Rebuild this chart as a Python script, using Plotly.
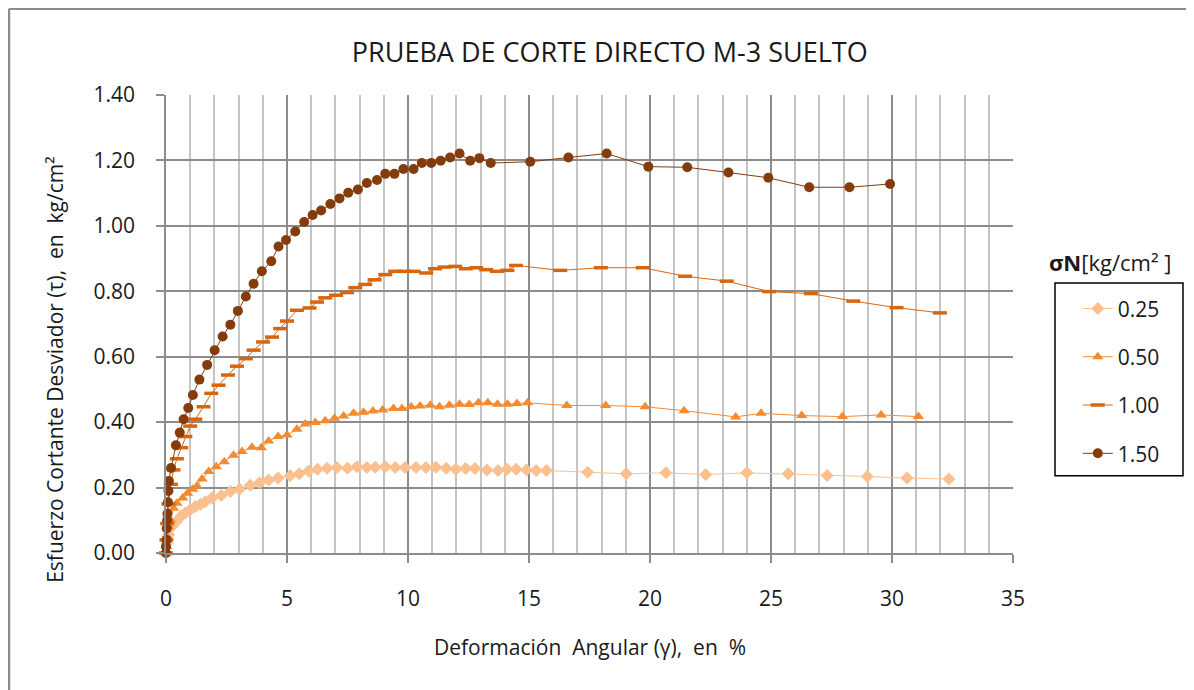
import plotly.graph_objects as go


###### DATA ######
# sigma N = 0.25 kg/cm2
x_025 = [0, 0.05, 0.11, 0.25, 0.43, 0.62, 0.80, 1.00, 1.21, 1.42, 1.62, 1.90, 2.28, 2.66, 3.04,
         3.48, 3.87, 4.24, 4.63, 5.13, 5.51, 5.89, 6.26, 6.65, 7.06, 7.50, 7.89, 8.30, 8.65, 9.06,
         9.47, 9.88, 10.33, 10.74, 11.15, 11.58, 11.98, 12.38, 12.77, 13.26, 13.72, 14.09, 14.47,
         14.90, 15.30, 15.72, 17.42, 19.02, 20.66, 22.30, 24.00, 25.71, 27.32, 28.98, 30.62, 32.35]
y_025 = [0, 0.030, 0.056, 0.081, 0.096, 0.112, 0.122, 0.132, 0.142, 0.149, 0.157, 0.168, 0.176,
         0.188, 0.195, 0.207, 0.215, 0.223, 0.229, 0.236, 0.242, 0.251, 0.256, 0.259, 0.261, 0.259,
         0.264, 0.261, 0.262, 0.264, 0.261, 0.261, 0.261, 0.261, 0.262, 0.259, 0.256, 0.258, 0.258,
         0.254, 0.252, 0.256, 0.256, 0.254, 0.252, 0.252, 0.247, 0.242, 0.245, 0.240, 0.245, 0.242,
         0.237, 0.234, 0.229, 0.226]

# sigma N = 0.50 kg/cm2
x_050 = [0, 0.03, 0.06, 0.11, 0.18, 0.31, 0.45, 0.69, 0.89, 1.10, 1.28, 1.49, 1.76, 2.08, 2.41,
         2.79, 3.14, 3.55, 3.94, 4.24, 4.63, 5.00, 5.41, 5.76, 6.17, 6.58, 6.96, 7.34, 7.75, 8.16,
         8.55, 8.95, 9.40, 9.75, 10.13, 10.50, 10.92, 11.30, 11.71, 12.13, 12.53, 12.91, 13.30,
         13.70, 14.11, 14.50, 14.94, 16.56, 18.17, 19.80, 21.41, 23.54, 24.59, 26.27, 27.95,
         29.55, 31.09]
y_050 = [0, 0.020, 0.050, 0.081, 0.101, 0.137, 0.152, 0.168, 0.183, 0.195, 0.205, 0.226, 0.249,
         0.264, 0.279, 0.299, 0.310, 0.323, 0.322, 0.342, 0.356, 0.361, 0.378, 0.394, 0.399, 0.404,
         0.412, 0.419, 0.427, 0.430, 0.434, 0.437, 0.442, 0.442, 0.447, 0.449, 0.452, 0.447, 0.452,
         0.455, 0.454, 0.459, 0.459, 0.455, 0.455, 0.457, 0.459, 0.451, 0.451, 0.447, 0.435, 0.416,
         0.427, 0.420, 0.417, 0.422, 0.417]

# sigma N = 1.00 kg/cm2
x_100 = [0, 0.02, 0.05, 0.10, 0.20, 0.31, 0.45, 0.63, 0.80, 1.00, 1.21, 1.55, 1.87, 2.17, 2.56,
         2.93, 3.30, 3.62, 4.01, 4.38, 4.72, 5.00, 5.41, 5.93, 6.24, 6.58, 7.03, 7.48, 7.82, 8.23,
         8.62, 9.06, 9.47, 9.85, 10.23, 10.75, 11.12, 11.51, 11.95, 12.39, 12.82, 13.23, 13.67,
         14.11, 14.46, 16.29, 17.97, 19.70, 21.45, 23.17, 24.92, 26.65, 28.40, 30.19, 31.98]
y_100 = [0, 0.040, 0.090, 0.150, 0.210, 0.254, 0.288, 0.322, 0.356, 0.388, 0.409, 0.447, 0.488,
         0.513, 0.544, 0.571, 0.594, 0.620, 0.645, 0.660, 0.686, 0.709, 0.742, 0.749, 0.767, 0.780,
         0.788, 0.796, 0.811, 0.821, 0.835, 0.851, 0.861, 0.861, 0.861, 0.856, 0.869, 0.874, 0.876,
         0.869, 0.872, 0.866, 0.861, 0.864, 0.879, 0.864, 0.872, 0.872, 0.846, 0.831, 0.799, 0.793,
         0.770, 0.750, 0.734]

# sigma N = 1.50 kg/cm2
x_150 = [0, 0.00, 0.02, 0.03, 0.05, 0.06, 0.08, 0.10, 0.12, 0.21, 0.41, 0.57, 0.73, 0.92, 1.11,
         1.38, 1.70, 2.01, 2.34, 2.66, 2.97, 3.30, 3.62, 3.96, 4.35, 4.65, 4.96, 5.34, 5.71, 6.06,
         6.41, 6.79, 7.17, 7.53, 7.93, 8.30, 8.72, 9.06, 9.44, 9.81, 10.23, 10.57, 10.96, 11.35,
         11.74, 12.13, 12.57, 12.95, 13.42, 15.05, 16.63, 18.21, 19.93, 21.54, 23.24, 24.89,
         26.58, 28.24, 29.92]
y_150 = [0, 0.020, 0.040, 0.075, 0.100, 0.120, 0.155, 0.190, 0.220, 0.260, 0.329, 0.368, 0.409,
         0.443, 0.483, 0.530, 0.575, 0.620, 0.662, 0.698, 0.740, 0.784, 0.823, 0.861, 0.892, 0.937,
         0.957, 0.983, 1.012, 1.033, 1.047, 1.067, 1.084, 1.101, 1.111, 1.131, 1.140, 1.159, 1.159,
         1.174, 1.174, 1.192, 1.192, 1.199, 1.209, 1.221, 1.199, 1.207, 1.192, 1.196, 1.209, 1.221,
         1.181, 1.179, 1.163, 1.147, 1.118, 1.118, 1.128]

series_names = ['0.25', '0.50', '1.00', '1.50']


###### PLOT ######
FONT = 'Open Sans'
TXT = '#1a1a1a'
FS = 21

fig = go.Figure()

styles = [
    (x_025, y_025, 'diamond', '#FAC08F', 10),
    (x_050, y_050, 'triangle-up', '#F58A2E', 10),
    (x_100, y_100, 'line-ew', '#D8660E', 10),
    (x_150, y_150, 'circle', '#843C0C', 10),
]

for name, (xs, ys, sym, col, sz) in zip(series_names, styles):
    if sym == 'line-ew':
        marker = dict(symbol=sym, size=sz, line=dict(color=col, width=3.5))
    else:
        marker = dict(symbol=sym, size=sz, color=col, line=dict(width=0))
    fig.add_trace(go.Scatter(
        x=xs, y=ys, name=name, mode='lines+markers',
        line=dict(color=col, width=1),
        marker=marker,
        legendgroup=name,
        cliponaxis=False,
    ))

# page body has an 8px margin, so margins are shifted by 8
fig.update_layout(
    width=1194, height=690,
    margin=dict(l=158, r=189, t=87, b=145),
    paper_bgcolor='white', plot_bgcolor='white',
    font=dict(family=FONT, size=FS, color=TXT),
    title=dict(text='PRUEBA DE CORTE DIRECTO M-3 SUELTO', x=0.504, xanchor='center',
               y=0.935, yanchor='middle', font=dict(size=27, color=TXT)),
    showlegend=True,
    legend=dict(x=1.0765, y=0.578, xanchor='left', yanchor='top',
                bgcolor='rgba(0,0,0,0)', borderwidth=0,
                tracegroupgap=18, font=dict(size=FS)),
)

fig.update_xaxes(
    range=[0, 35], dtick=5, tick0=0,
    showgrid=True, gridcolor='#8C8C8C', gridwidth=1.5,
    minor=dict(dtick=1, showgrid=True, gridcolor='#C4C4C4', gridwidth=1.5),
    showline=True, linecolor='#8C8C8C', linewidth=1.5,
    ticks='outside', ticklen=8, tickcolor='#8C8C8C', tickwidth=1.5,
    ticklabelstandoff=18, zeroline=False,
)

fig.update_yaxes(
    range=[0, 1.4], dtick=0.2, tick0=0, tickformat='.2f',
    showgrid=True, gridcolor='#8C8C8C', gridwidth=1.5,
    showline=True, linecolor='#8C8C8C', linewidth=1.5,
    ticks='outside', ticklen=8, tickcolor='#8C8C8C', tickwidth=1.5,
    ticklabelstandoff=17, zeroline=False,
)

# axis titles (placed as in the original, the y one sits a little low)
fig.add_annotation(text='Deformación  Angular (γ),  en  %', x=0.5006, y=-0.2046,
                   xref='paper', yref='paper', showarrow=False,
                   xanchor='center', yanchor='middle', font=dict(size=FS, color=TXT))
fig.add_annotation(text='Esfuerzo Cortante Desviador (τ),  en  kg/cm²', x=-0.131, y=0.40,
                   xref='paper', yref='paper', showarrow=False, textangle=-90,
                   xanchor='center', yanchor='middle', font=dict(size=FS, color=TXT))

# legend heading and its box (heading sits outside the box, as in Excel)
fig.add_annotation(text='<b>σN</b>[kg/cm² ]', x=1.1145, y=0.635, xref='paper', yref='paper',
                   showarrow=False, font=dict(size=22, color=TXT), xanchor='center', yanchor='middle')
fig.add_shape(type='rect', xref='paper', yref='paper', x0=1.0496, x1=1.2007, y0=0.1686, y1=0.5894,
              line=dict(color='black', width=1.5), fillcolor='rgba(0,0,0,0)')

# chart-area border, top and left edges
fig.add_shape(type='line', xref='paper', yref='paper', x0=-0.1854, x1=1.2137, y0=1.1884, y1=1.1884,
              line=dict(color='#8C8C8C', width=2.5), layer='below')
fig.add_shape(type='line', xref='paper', yref='paper', x0=-0.1854, x1=-0.1854, y0=-0.30, y1=1.1884,
              line=dict(color='#8C8C8C', width=2.5), layer='below')

fig.write_html('out.html')
